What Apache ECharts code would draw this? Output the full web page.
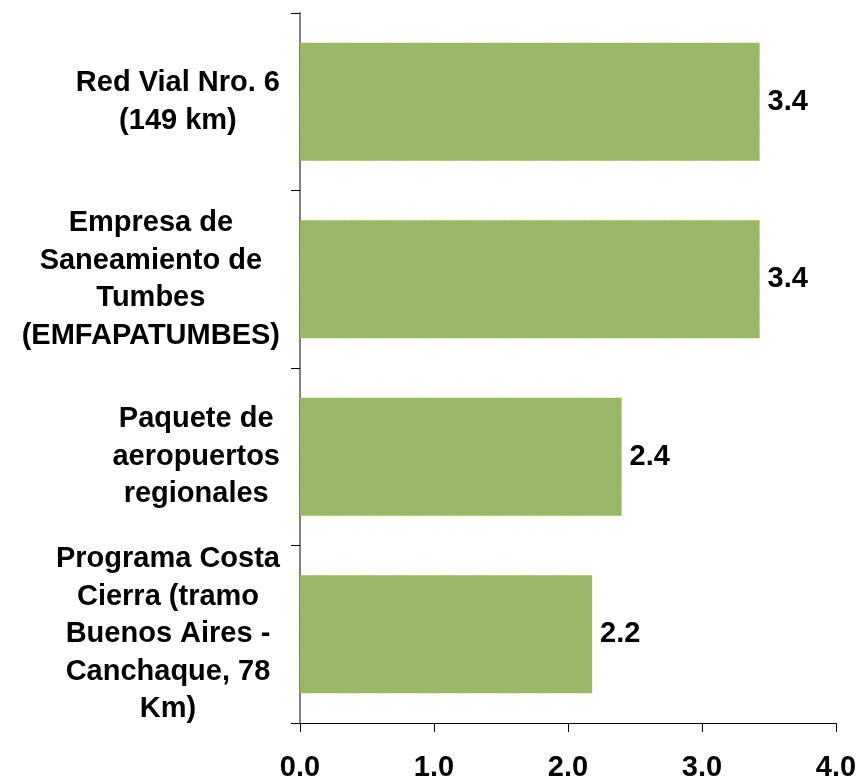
<!DOCTYPE html>
<html>
<head>
<meta charset="utf-8">
<script src="https://cdn.jsdelivr.net/npm/echarts@6/dist/echarts.min.js"></script>
<style>
  html, body { margin: 0; padding: 0; background: #ffffff; }
  #chart { width: 858px; height: 779px; }
</style>
</head>
<body>
<div id="chart"></div>
<script>
// categories top to bottom, as in the picture
const projects = [
  "Red Vial Nro. 6\n(149 km)",
  "Empresa de\nSaneamiento de\nTumbes\n(EMFAPATUMBES)",
  "Paquete de\naeropuertos\nregionales",
  "Programa Costa\nCierra (tramo\nBuenos Aires -\nCanchaque, 78\nKm)",
];
const amounts = [3.43, 3.43, 2.4, 2.18];
const xTickLabels = ["0.0", "1.0", "2.0", "3.0", "4.0"];

const fontFamily = "'Liberation Sans', Arial, sans-serif";

// diagonal green / lavender hatching used by the bars
const makeHatch = () => {
  const size = 5;
  const canvas = document.createElement("canvas");
  canvas.width = size;
  canvas.height = size;
  const ctx = canvas.getContext("2d");
  for (let y = 0; y < size; y += 1) {
    for (let x = 0; x < size; x += 1) {
      ctx.fillStyle = (x - y + size) % size < 3 ? "#99cc00" : "#9999ff";
      ctx.fillRect(x, y, 1, 1);
    }
  }
  return canvas;
};

const chart = echarts.init(document.getElementById("chart"));

chart.setOption({
  animation: false,
  grid: { left: 300, right: 22, top: 13, bottom: 56, outerBoundsMode: "none" },
  xAxis: {
    type: "value",
    min: 0,
    max: 4,
    interval: 1,
    axisLine: { show: true, lineStyle: { color: "#000000", width: 1 } },
    axisTick: { show: true, length: 9, lineStyle: { color: "#000000" } },
    splitLine: { show: false },
    axisLabel: {
      margin: 30,
      color: "#000000",
      fontFamily,
      fontWeight: "bold",
      fontSize: 29,
      formatter: (value) => xTickLabels[Math.round(value)] ?? value.toFixed(1),
    },
  },
  yAxis: {
    type: "category",
    inverse: true,
    data: projects,
    axisLine: { show: true, lineStyle: { color: "#808080", width: 2 } },
    axisTick: { show: true, length: 9, lineStyle: { color: "#000000" } },
    axisLabel: {
      margin: 20,
      color: "#000000",
      formatter: (value) =>
        value
          .split("\n")
          .map((line) => `{c|${line}}`)
          .join("\n"),
      rich: {
        c: {
          align: "center",
          fontFamily,
          fontWeight: "bold",
          fontSize: 29,
          lineHeight: 37.5,
          color: "#000000",
        },
      },
    },
  },
  series: [
    {
      type: "bar",
      data: amounts,
      barCategoryGap: "33.5%",
      itemStyle: {
        color: { image: makeHatch(), repeat: "repeat" },
      },
      label: {
        show: true,
        position: "right",
        distance: 8,
        color: "#000000",
        fontFamily,
        fontWeight: "bold",
        fontSize: 29,
        formatter: (p) => p.value.toFixed(1),
      },
    },
  ],
});
</script>
</body>
</html>
